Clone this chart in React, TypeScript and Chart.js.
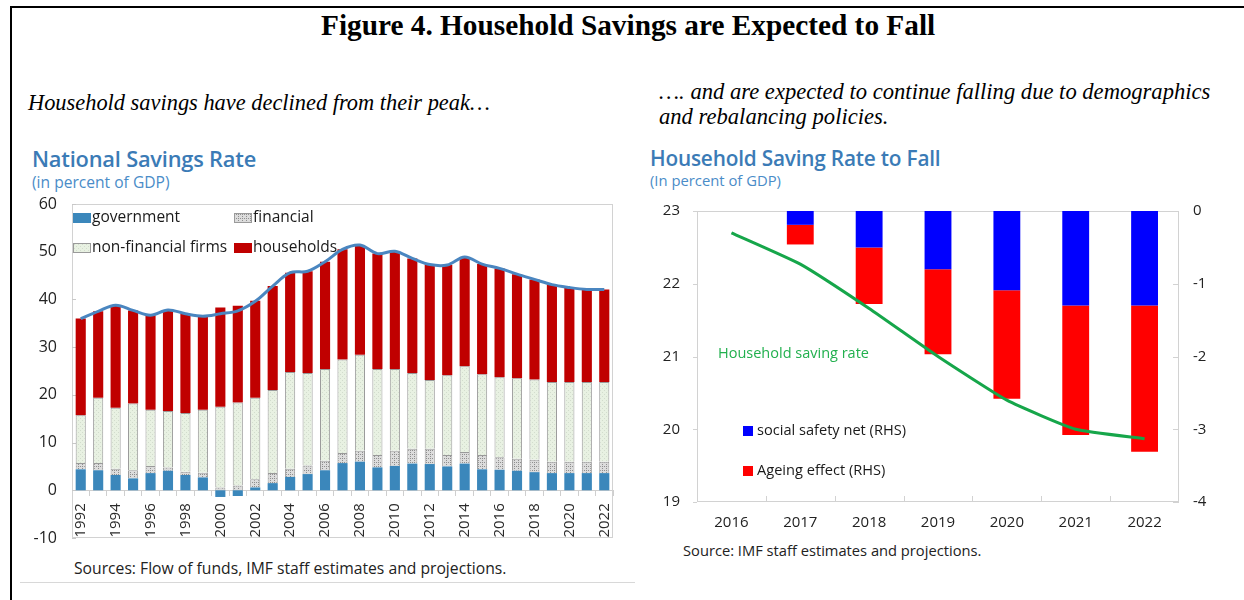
import React, { useEffect, useRef } from 'react';
import { Chart, registerables } from 'chart.js';

Chart.register(...registerables);

// ---------- Left panel data: National Savings Rate (percent of GDP) ----------
const years = [
  '1992', '1993', '1994', '1995', '1996', '1997', '1998', '1999', '2000', '2001',
  '2002', '2003', '2004', '2005', '2006', '2007', '2008', '2009', '2010', '2011',
  '2012', '2013', '2014', '2015', '2016', '2017', '2018', '2019', '2020', '2021', '2022',
];
const government = [4.4, 4.2, 3.2, 2.5, 3.6, 4.1, 3.2, 2.7, -1.4, -1.2, 0.6, 1.5, 2.8, 3.4, 4.2, 5.7, 6.0, 4.8, 5.1, 5.6, 5.5, 5.0, 5.6, 4.4, 4.3, 4.1, 3.8, 3.6, 3.6, 3.6, 3.6];
const financial = [1.3, 1.5, 1.3, 1.7, 1.5, 0.7, 0.7, 1.0, 0.6, 1.0, 1.7, 2.1, 1.7, 1.8, 2.0, 2.1, 2.3, 2.6, 3.2, 3.1, 3.2, 2.4, 2.4, 3.0, 2.6, 2.5, 2.6, 2.4, 2.4, 2.4, 2.4];
const nonFinancialFirms = [10.0, 13.7, 12.8, 14.0, 11.8, 11.8, 12.3, 13.2, 16.9, 17.4, 17.1, 17.4, 20.3, 19.4, 19.2, 19.6, 20.1, 18.0, 17.1, 15.9, 14.4, 16.7, 18.0, 16.9, 16.8, 16.9, 16.8, 16.7, 16.7, 16.7, 16.7];
const households = [20.3, 18.1, 21.4, 19.5, 19.8, 21.1, 20.8, 19.6, 20.8, 20.3, 20.3, 21.8, 20.8, 21.3, 22.5, 23.1, 23.0, 24.2, 24.7, 24.0, 24.2, 23.1, 22.9, 23.1, 22.8, 21.8, 21.0, 20.4, 19.8, 19.4, 19.4];
const nationalTotal = [36.0, 37.5, 38.8, 37.7, 36.7, 37.8, 37.0, 36.5, 37.0, 37.6, 39.6, 42.8, 45.6, 45.9, 47.9, 50.5, 51.4, 49.6, 50.1, 48.6, 47.3, 47.2, 48.9, 47.4, 46.5, 45.3, 44.2, 43.1, 42.5, 42.1, 42.1];
const leftLegendLabels = ['government', 'financial', 'non-financial firms', 'households'];

// ---------- Right panel data: Household Saving Rate to Fall ----------
const rightYears = ['2016', '2017', '2018', '2019', '2020', '2021', '2022'];
const householdSavingRate = [22.7, 22.27, 21.66, 21.0, 20.4, 20.0, 19.87];
const socialSafetyNet = [null, -0.19, -0.5, -0.8, -1.09, -1.3, -1.3];
const ageingEffect = [null, -0.27, -0.78, -1.17, -1.49, -1.78, -2.01];

const FONT = "'Open Sans', 'Noto Sans', sans-serif";
const SERIF = "'Liberation Serif', 'Times New Roman', serif";

function makePattern(bg: string, dot: string, size: number, dots: number[][]): CanvasPattern | string {
  const c = document.createElement('canvas');
  c.width = size;
  c.height = size;
  const x = c.getContext('2d');
  if (!x) return bg;
  x.fillStyle = bg;
  x.fillRect(0, 0, size, size);
  x.fillStyle = dot;
  dots.forEach(([a, b]) => x.fillRect(a, b, 1, 1));
  return x.createPattern(c, 'repeat') || bg;
}

const leftDecor = {
  id: 'leftDecor',
  beforeDatasetsDraw(chart: any) {
    const { ctx, chartArea, scales } = chart;
    ctx.save();
    ctx.strokeStyle = '#d2d2d2';
    ctx.lineWidth = 1;
    ctx.strokeRect(chartArea.left + 0.5, chartArea.top + 0.5, chartArea.width - 1, chartArea.height - 1);
    const y = scales.y;
    ctx.strokeStyle = '#c8c8c8';
    y.ticks.forEach((t: any) => {
      const py = Math.round(y.getPixelForValue(t.value)) + 0.5;
      ctx.beginPath();
      ctx.moveTo(chartArea.left, py);
      ctx.lineTo(chartArea.left + 4, py);
      ctx.stroke();
    });
    const ds = chart.data.datasets;
    ctx.font = `15.5px ${FONT}`;
    ctx.textBaseline = 'middle';
    ctx.textAlign = 'left';
    for (let k = 0; k < 4; k++) {
      const d = ds[k + 1];
      const col = k % 2;
      const row = Math.floor(k / 2);
      const bx = chartArea.left + 1 + col * 161;
      const by = chartArea.top + 14 + row * 30;
      ctx.fillStyle = d.backgroundColor;
      ctx.fillRect(bx, by - 5, 18, 10);
      if (d.borderWidth) {
        ctx.strokeStyle = '#9a9a9a';
        ctx.strokeRect(bx + 0.5, by - 4.5, 17, 9);
      }
      ctx.fillStyle = '#1a1a1a';
      ctx.fillText(leftLegendLabels[k], bx + 19, by);
    }
    ctx.restore();
  },
};

const rightDecor = {
  id: 'rightDecor',
  beforeDatasetsDraw(chart: any) {
    const { ctx, chartArea, scales } = chart;
    ctx.save();
    ctx.strokeStyle = '#d2d2d2';
    ctx.lineWidth = 1;
    ctx.strokeRect(chartArea.left + 0.5, chartArea.top + 0.5, chartArea.width - 1, chartArea.height - 1);
    const n = rightYears.length;
    const w = chartArea.width / n;
    for (let i = 1; i < n; i++) {
      const px = Math.round(chartArea.left + i * w) + 0.5;
      ctx.beginPath();
      ctx.moveTo(px, chartArea.bottom);
      ctx.lineTo(px, chartArea.bottom - 6);
      ctx.stroke();
    }
    const y = scales.y;
    y.ticks.forEach((t: any) => {
      const py = Math.round(y.getPixelForValue(t.value)) + 0.5;
      ctx.beginPath();
      ctx.moveTo(chartArea.left - 4, py);
      ctx.lineTo(chartArea.left, py);
      ctx.stroke();
    });
    const y1 = scales.y1;
    y1.ticks.forEach((t: any) => {
      const py = Math.round(y1.getPixelForValue(t.value)) + 0.5;
      ctx.beginPath();
      ctx.moveTo(chartArea.right - 6, py);
      ctx.lineTo(chartArea.right, py);
      ctx.stroke();
    });
    ctx.restore();
  },
  afterDatasetsDraw(chart: any) {
    const { ctx, chartArea } = chart;
    const ds = chart.data.datasets;
    ctx.save();
    ctx.textBaseline = 'middle';
    ctx.textAlign = 'left';
    ctx.font = `14.5px ${FONT}`;
    ctx.fillStyle = '#22b04e';
    ctx.fillText(ds[0].label, chartArea.left + 21, chartArea.top + 143);
    ctx.font = `14.6px ${FONT}`;
    [1, 2].forEach((idx, r) => {
      const cy = chartArea.top + 220 + r * 40;
      ctx.fillStyle = ds[idx].backgroundColor;
      ctx.fillRect(chartArea.left + 46, cy - 5, 10, 10);
      ctx.fillStyle = '#1a1a1a';
      ctx.fillText(ds[idx].label, chartArea.left + 60, cy);
    });
    ctx.restore();
  },
};

export default function App() {
  const leftRef = useRef<HTMLCanvasElement>(null);
  const rightRef = useRef<HTMLCanvasElement>(null);

  useEffect(() => {
    const finPattern = makePattern('#dcdcdc', '#8f8f8f', 4, [[0, 0], [2, 2], [2, 0]]);
    const nonFinPattern = makePattern('#e8f1e2', '#d2dccd', 4, [[0, 0], [2, 2]]);

    const left = new Chart(leftRef.current as HTMLCanvasElement, {
      type: 'bar',
      data: {
        labels: years,
        datasets: [
          {
            type: 'line',
            label: 'total',
            data: nationalTotal,
            borderColor: '#4a86c0',
            borderWidth: 3,
            pointRadius: 0,
            tension: 0.35,
            stack: 'total',
            order: 0,
          } as any,
          { label: 'government', data: government, backgroundColor: '#3b87bb', borderWidth: 0, order: 1 },
          { label: 'financial', data: financial, backgroundColor: finPattern as any, borderColor: '#9a9a9a', borderWidth: 1, order: 1 },
          { label: 'non-financial firms', data: nonFinancialFirms, backgroundColor: nonFinPattern as any, borderColor: '#9a9a9a', borderWidth: 1, order: 1 },
          { label: 'households', data: households, backgroundColor: '#c00000', borderWidth: 0, order: 1 },
        ],
      },
      options: {
        responsive: false,
        animation: false,
        datasets: { bar: { barPercentage: 0.58, categoryPercentage: 1 } },
        layout: { padding: { left: 0, right: 7, top: 14, bottom: 12 } },
        plugins: { legend: { display: false }, tooltip: { enabled: false } },
        scales: {
          x: {
            stacked: true,
            position: { y: 0 } as any,
            grid: { display: true, drawOnChartArea: false, drawTicks: true, tickLength: 5, color: '#cfcfcf' },
            border: { display: true, color: '#cfcfcf' },
            ticks: {
              autoSkip: false,
              maxRotation: 90,
              minRotation: 90,
              padding: 8,
              color: '#2a2a2a',
              font: { family: FONT, size: 15 },
              callback: (_v: any, i: number) => (i % 2 === 0 ? years[i] : ''),
            },
            afterFit: (s: any) => {
              s.paddingLeft = 0;
              s.paddingRight = 0;
            },
          },
          y: {
            stacked: true,
            min: -10,
            max: 60,
            grid: { display: false, drawTicks: false },
            border: { display: false },
            ticks: { stepSize: 10, padding: 15, color: '#222', font: { family: FONT, size: 16 } },
            afterFit: (s: any) => {
              s.width = 52;
              s.paddingTop = 0;
              s.paddingBottom = 0;
            },
          },
        },
      } as any,
      plugins: [leftDecor],
    });

    const right = new Chart(rightRef.current as HTMLCanvasElement, {
      type: 'bar',
      data: {
        labels: rightYears,
        datasets: [
          {
            type: 'line',
            label: 'Household saving rate',
            data: householdSavingRate,
            yAxisID: 'y',
            borderColor: '#16a64a',
            borderWidth: 3,
            pointRadius: 0,
            tension: 0.15,
            order: 0,
          } as any,
          { label: 'social safety net (RHS)', data: socialSafetyNet, yAxisID: 'y1', backgroundColor: '#0000ff', stack: 'rhs', order: 1 },
          { label: 'Ageing effect (RHS)', data: ageingEffect, yAxisID: 'y1', backgroundColor: '#ff0000', stack: 'rhs', order: 1 },
        ],
      },
      options: {
        responsive: false,
        animation: false,
        datasets: { bar: { barPercentage: 0.39, categoryPercentage: 1 } },
        layout: { padding: { left: 0, right: 0, top: 16, bottom: 5 } },
        plugins: { legend: { display: false }, tooltip: { enabled: false } },
        scales: {
          x: {
            stacked: true,
            grid: { display: false, drawTicks: false },
            border: { display: false },
            ticks: { padding: 12, color: '#222', font: { family: FONT, size: 15 } },
            afterFit: (s: any) => {
              s.height = 33;
              s.paddingLeft = 0;
              s.paddingRight = 0;
            },
          },
          y: {
            position: 'left',
            min: 19,
            max: 23,
            grid: { display: false, drawTicks: false },
            border: { display: false },
            ticks: { stepSize: 1, padding: 17, color: '#222', font: { family: FONT, size: 15 } },
            afterFit: (s: any) => {
              s.width = 57;
              s.paddingTop = 0;
              s.paddingBottom = 0;
            },
          },
          y1: {
            position: 'right',
            stacked: true,
            min: -4,
            max: 0,
            grid: { display: false, drawTicks: false },
            border: { display: false },
            ticks: { stepSize: 1, padding: 14, color: '#222', font: { family: FONT, size: 15 } },
            afterFit: (s: any) => {
              s.width = 61;
              s.paddingTop = 0;
              s.paddingBottom = 0;
            },
          },
        },
      } as any,
      plugins: [rightDecor],
    });

    return () => {
      left.destroy();
      right.destroy();
    };
  }, []);

  const abs = (l: number, t: number, extra: React.CSSProperties = {}): React.CSSProperties => ({
    position: 'absolute',
    left: l,
    top: t,
    whiteSpace: 'nowrap',
    margin: 0,
    ...extra,
  });

  return (
    <div style={{ position: 'fixed', left: 0, top: 0, width: 1244, height: 600, background: '#fff', overflow: 'hidden' }}>
      <div style={abs(10, 6, { width: 1234, height: 2, background: '#000' })} />
      <div style={abs(10, 6, { width: 2, height: 594, background: '#000' })} />

      <div style={abs(321, 9, { font: `bold 29.3px/32px ${SERIF}`, color: '#000' })}>
        Figure 4. Household Savings are Expected to Fall
      </div>

      <div style={abs(28, 91, { font: `italic 22.4px/24px ${SERIF}`, color: '#000' })}>
        Household savings have declined from their peak…
      </div>
      <div style={abs(659, 79, { font: `italic 22.6px/25px ${SERIF}`, color: '#000' })}>
        …. and are expected to continue falling due to demographics
        <br />
        and rebalancing policies.
      </div>

      <div style={abs(32, 146, { font: `600 21.8px/26px ${FONT}`, color: '#3b7bb6', letterSpacing: -0.2 })}>
        National Savings Rate
      </div>
      <div style={abs(32, 173, { font: `15.6px/18px ${FONT}`, color: '#4a8cc8' })}>(in percent of GDP)</div>

      <div style={abs(650, 145, { font: `600 20.8px/26px ${FONT}`, color: '#3b7bb6', letterSpacing: -0.2 })}>
        Household Saving Rate to Fall
      </div>
      <div style={abs(650, 171, { font: `14.8px/18px ${FONT}`, color: '#4a8cc8' })}>(In percent of GDP)</div>

      <div style={abs(20, 190, { width: 600, height: 360 })}>
        <canvas ref={leftRef} width={600} height={360} style={{ width: 600, height: 360, display: 'block' }} />
      </div>
      <div style={abs(640, 195, { width: 600, height: 345 })}>
        <canvas ref={rightRef} width={600} height={345} style={{ width: 600, height: 345, display: 'block' }} />
      </div>

      <div style={abs(74, 559, { font: `15.7px/18px ${FONT}`, color: '#222' })}>
        Sources: Flow of funds, IMF staff estimates and projections.
      </div>
      <div style={abs(683, 541, { font: `14.7px/18px ${FONT}`, color: '#222' })}>
        Source: IMF staff estimates and projections.
      </div>
      <div style={abs(20, 582, { width: 615, height: 1, background: '#d8d8d8' })} />
    </div>
  );
}
